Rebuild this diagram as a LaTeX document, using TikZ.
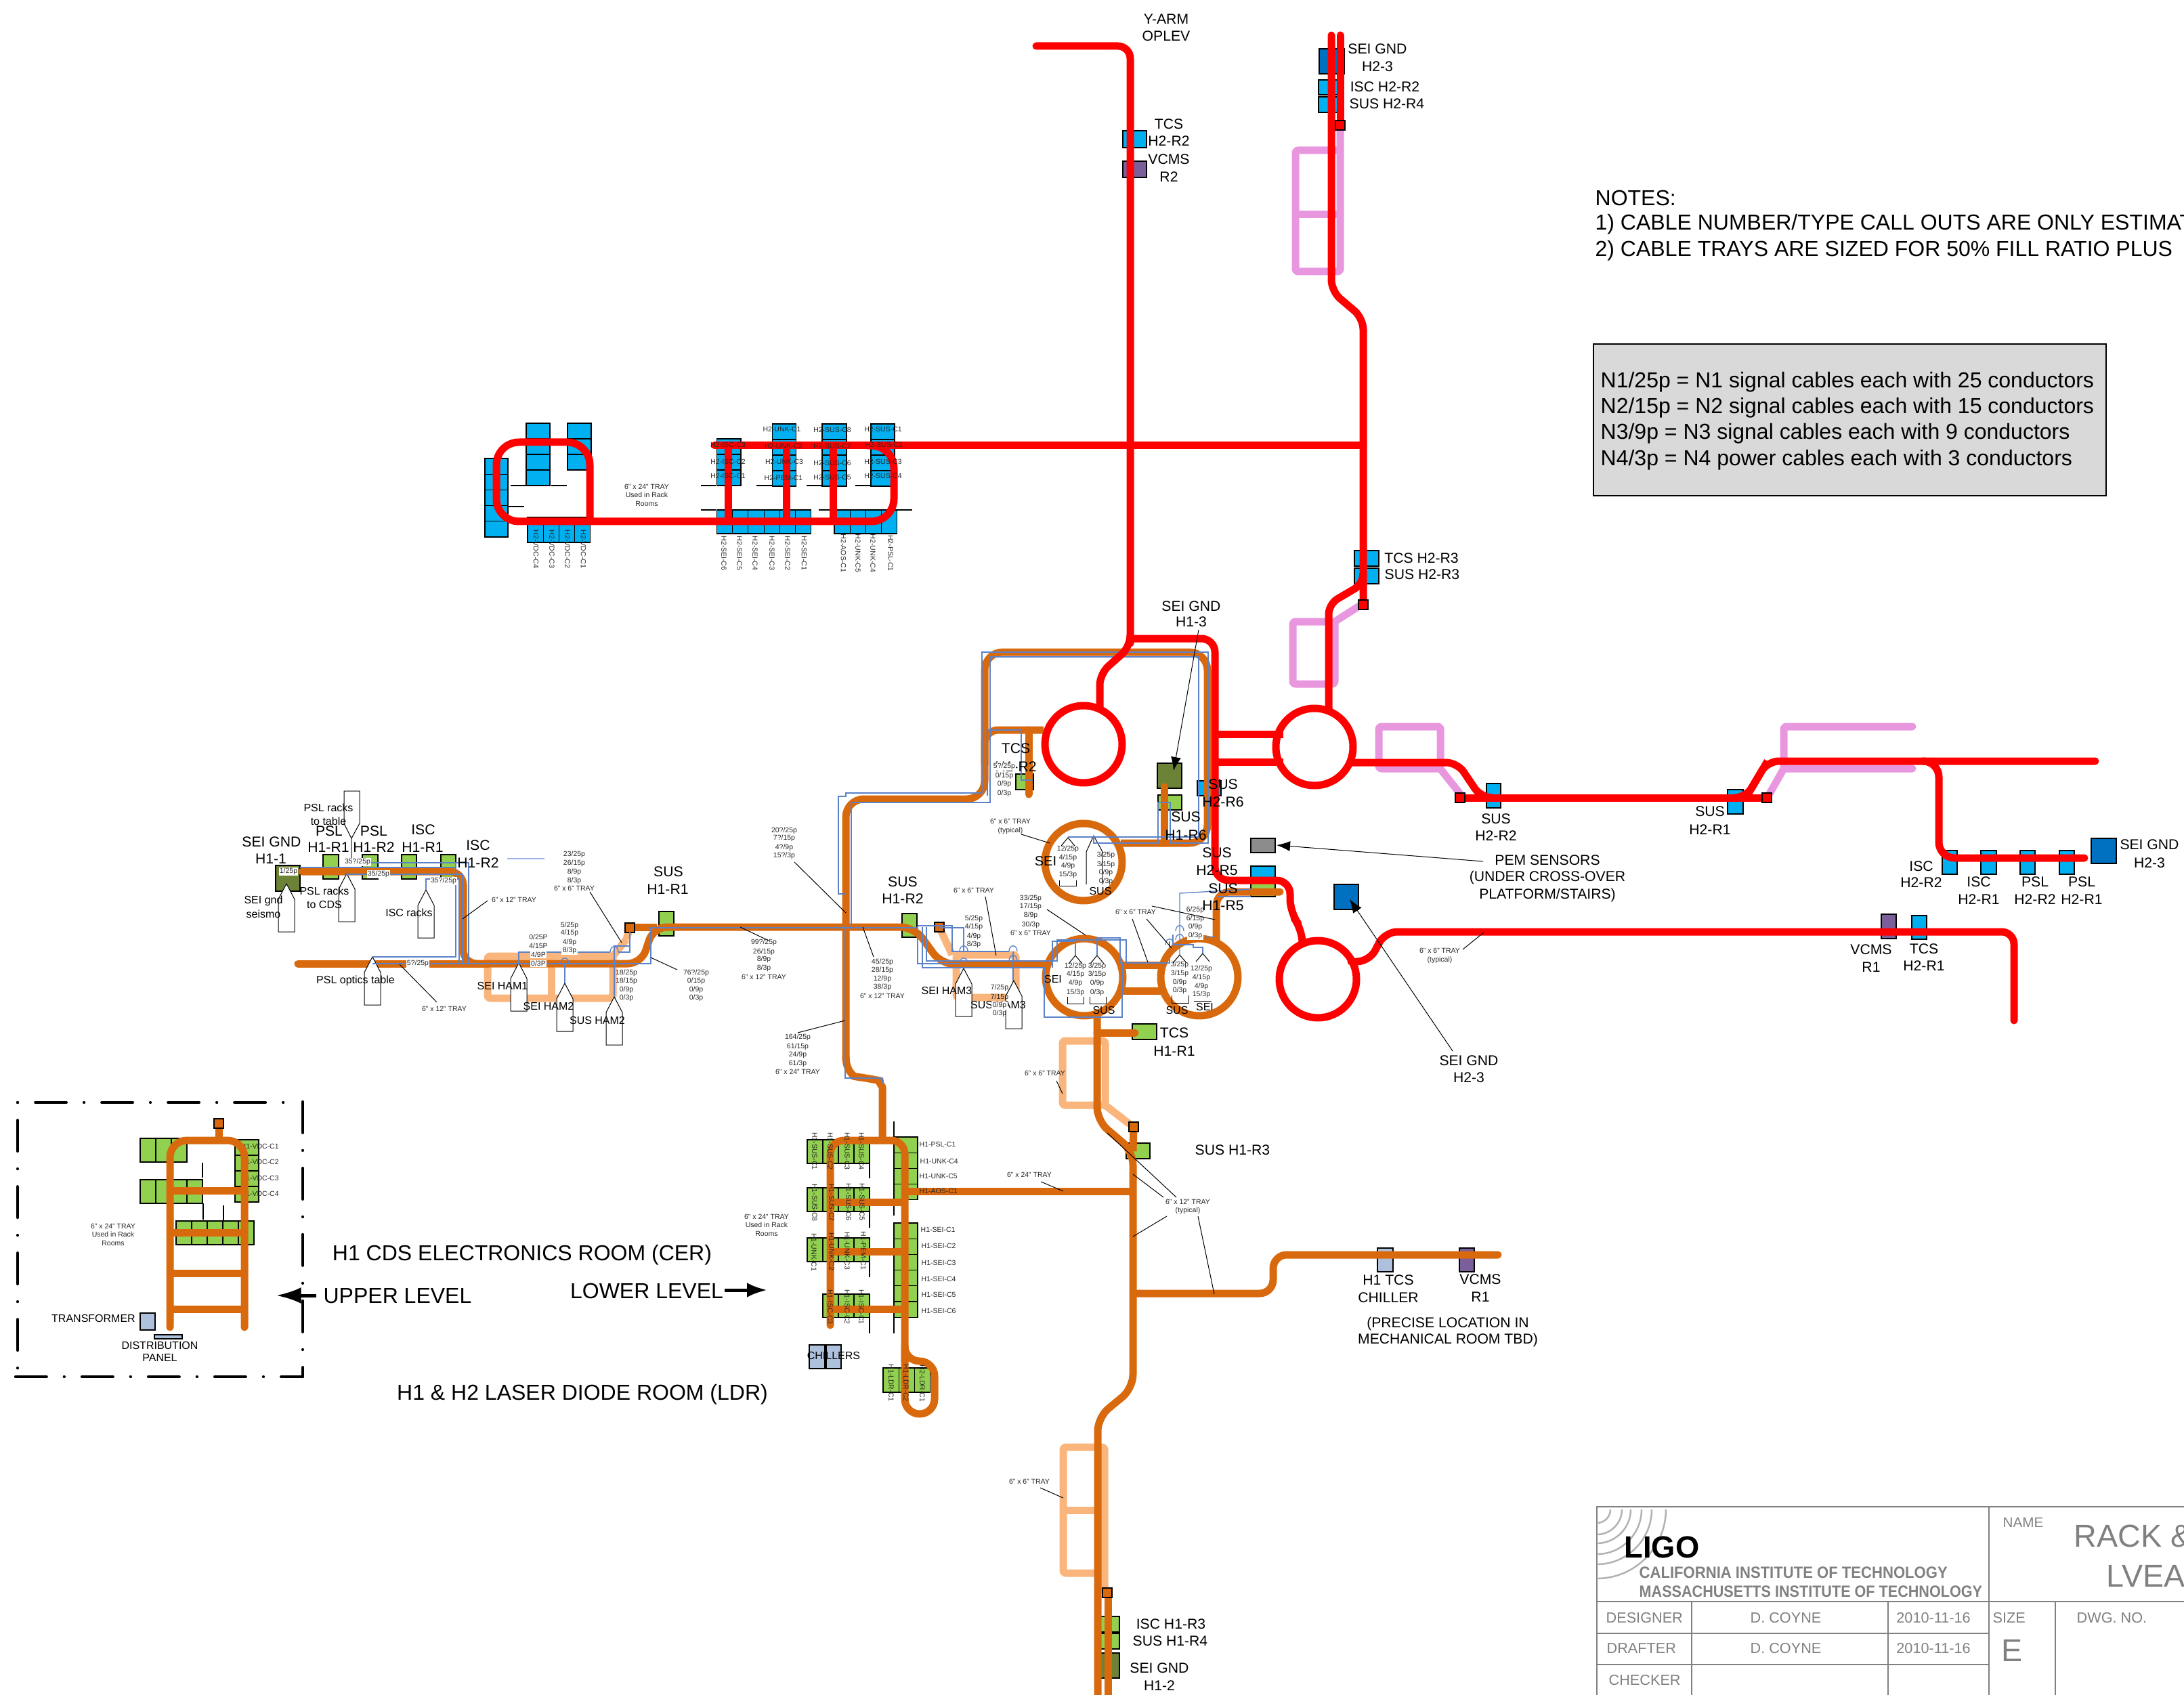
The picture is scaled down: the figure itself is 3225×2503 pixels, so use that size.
\documentclass[tikz,border=0pt]{standalone}
\usepackage{fontspec}
\setmainfont{Liberation Sans}
\usetikzlibrary{arrows.meta}
\definecolor{cred}{HTML}{FF0000}
\definecolor{corg}{HTML}{D9690D}
\definecolor{cpea}{HTML}{FAB57C}
\definecolor{cpnk}{HTML}{E897DE}
\definecolor{cgrn}{HTML}{92D050}
\definecolor{cblu}{HTML}{00B0F0}
\definecolor{cdbl}{HTML}{0070C0}
\definecolor{cdgr}{HTML}{6B8237}
\definecolor{cpur}{HTML}{7A5F9A}
\definecolor{cbgr}{HTML}{AEC1DC}
\definecolor{cwir}{HTML}{5B82C8}
\definecolor{ctxt}{HTML}{808080}
\tikzset{
 tray/.style={line width=3.3pt,line join=round},
 rtray/.style={tray,draw=cred,rounded corners=6pt},
 otray/.style={tray,draw=corg,rounded corners=6pt},
 ptray/.style={tray,draw=cpea,rounded corners=1pt},
 ktray/.style={tray,draw=cpnk,rounded corners=1pt},
 rack/.style={draw=black,line width=0.35pt},
 tick/.style={draw=black,line width=0.6pt},
 lead/.style={draw=black,line width=0.3pt},
 wire/.style={draw=cwir,line width=0.4pt},
 penta/.style={draw=black,fill=white,line width=0.3pt},
 arrowlead/.style={lead,-{Latex[length=6pt,width=4.5pt]}},
 tb/.style={draw=ctxt,line width=0.75pt},
 lab/.style={inner sep=0pt,align=center},
 sm/.style={lab,font=\fontsize{3.15}{3.8}\selectfont,text=black!85},
 md/.style={lab,font=\fontsize{4.8}{5.8}\selectfont},
 lg/.style={lab,font=\fontsize{6.35}{7.4}\selectfont},
 hg/.style={lab,font=\fontsize{9.6}{11.5}\selectfont},
 nt/.style={lab,anchor=west,font=\fontsize{9.6}{11}\selectfont},
 tbt/.style={lab,text=ctxt,font=\fontsize{6.5}{7.8}\selectfont},
 framed/.style={draw=black,line width=1.3pt,line cap=round,dash pattern=on 13.7pt off 7.85pt on 0.01pt off 7.85pt},
 framedot/.style={draw=black,line width=1.3pt,line cap=round,dash pattern=on 0.01pt off 7.85pt on 13.7pt off 7.85pt}
}
\newcounter{lbl}
\newcommand\Sm[4][]{\stepcounter{lbl}\node[sm,#1] (s\thelbl) at (#2,#3) {#4};}
\newcommand\Sw[4][]{\stepcounter{lbl}\node[sm,fill=white,inner sep=0.4pt,#1] (s\thelbl) at (#2,#3) {#4};}
\newcommand\Md[4][]{\stepcounter{lbl}\node[md,#1] (m\thelbl) at (#2,#3) {#4};}
\newcommand\Lg[4][]{\stepcounter{lbl}\node[lg,#1] (l\thelbl) at (#2,#3) {#4};}
\newcommand\Hg[4][]{\stepcounter{lbl}\node[hg,#1] (h\thelbl) at (#2,#3) {#4};}
\newcommand\Tb[4][]{\stepcounter{lbl}\node[tbt,#1] (b\thelbl) at (#2,#3) {#4};}
\newcommand\Rt[3]{\Sm[rotate=-90]{#1}{#2}{#3}}
\newcommand\Bx[5]{\draw[rack,fill=#1] (#2,#3) rectangle (#4,#5);}
\newcommand\RackH[6]{\foreach \ii in {1,...,#6}{\draw[rack,fill=#1] ({#2+(\ii-1)*#4},#3) rectangle ++(#4,#5);}}
\newcommand\RackV[6]{\foreach \ii in {1,...,#6}{\draw[rack,fill=#1] (#2,{#3+(\ii-1)*#5}) rectangle ++(#4,#5);}}
\newcommand\Sq[3]{\draw[draw=black,line width=0.55pt,fill=#1] ({#2-7},{#3-7}) rectangle ({#2+7},{#3+7});}
\newcommand\PUp[2]{\draw[penta] (#1,#2) -- ({#1+12},{#2+23}) -- ({#1+12},{#2+71}) -- ({#1-12},{#2+71}) -- ({#1-12},{#2+23}) -- cycle;}
\newcommand\Hop[2]{\draw[wire] ({#1-6},#2) .. controls ({#1-6},{#2-11}) and ({#1+6},{#2-11}) .. ({#1+6},#2);}
\newcommand\Arcq[1]{\draw[draw=black!30,line width=0.75pt] ({2358+#1},2229) .. controls ({2358+#1},{2229+0.55*#1}) and ({2358+0.55*#1},{2229+#1}) .. (2358,{2229+#1});}
\newcommand\Chev[2]{\draw[lead] ({#1-10},{#2+12}) -- (#1,#2) -- ({#1+10},{#2+12});}
\begin{document}
\begin{tikzpicture}[x=0.3pt,y=-0.3pt]
\useasboundingbox (0,0) rectangle (3225,2503);
% ---- frame of upper level
\draw[framedot] (26,1628) -- (426,1628);
\draw[framedot] (26,1628) -- (26,2030);
\draw[framed] (447,1627) -- (447,2033);
\draw[framed] (23,2033) -- (447,2033);
% ---- title block
\draw[tb] (3225,2225) -- (2358,2225) -- (2358,2503);
\draw[tb] (2937,2225) -- (2937,2503);
\draw[tb] (2358,2365) -- (3225,2365);
\draw[tb] (2358,2412) -- (2937,2412);
\draw[tb] (2358,2458) -- (2937,2458);
\draw[tb] (2498,2365) -- (2498,2503);
\draw[tb] (2788,2365) -- (2788,2503);
\draw[tb] (3035,2365) -- (3035,2503);
\Arcq{20}\Arcq{37}\Arcq{50}\Arcq{66}\Arcq{81}\Arcq{102}
\stepcounter{lbl}\node[lab,anchor=west,font=\bfseries\fontsize{13.6}{14}\selectfont] (ligo) at (2398,2285) {LIGO};
\stepcounter{lbl}\node[lab,anchor=west,text=ctxt,font=\bfseries\fontsize{7.2}{8}\selectfont] (calt) at (2420,2322) {\scalebox{0.92}[1]{CALIFORNIA INSTITUTE OF TECHNOLOGY}};
\stepcounter{lbl}\node[lab,anchor=west,text=ctxt,font=\bfseries\fontsize{7.2}{8}\selectfont] (mit) at (2420,2350) {\scalebox{0.9}[1]{MASSACHUSETTS INSTITUTE OF TECHNOLOGY}};
\Tb[anchor=west,font=\fontsize{6.2}{7}\selectfont]{2957}{2248}{NAME}
\Tb[anchor=west,font=\fontsize{14}{16}\selectfont]{3062}{2268}{RACK \&}
\Tb[anchor=west,font=\fontsize{14}{16}\selectfont]{3110}{2327}{LVEA}
\Tb[anchor=west]{2371}{2389}{DESIGNER}
\Tb[anchor=west]{2372}{2434}{DRAFTER}
\Tb[anchor=west]{2375}{2481}{CHECKER}
\Tb{2637}{2389}{D. COYNE}
\Tb{2637}{2434}{D. COYNE}
\Tb{2855}{2389}{2010-11-16}
\Tb{2855}{2434}{2010-11-16}
\Tb[anchor=west]{2942}{2389}{SIZE}
\Tb[font=\fontsize{14}{16}\selectfont]{2971}{2437}{E}
\Tb[anchor=west]{3066}{2389}{DWG. NO.}
% ---- notes
\stepcounter{lbl}\node[nt] (n1) at (2355,292) {NOTES:};
\stepcounter{lbl}\node[nt] (n2) at (2355,331) {1) CABLE NUMBER/TYPE CALL OUTS ARE ONLY ESTIMAT};
\stepcounter{lbl}\node[nt] (n3) at (2355,370) {2) CABLE TRAYS ARE SIZED FOR 50\% FILL RATIO PLUS};
\draw[draw=black,line width=0.6pt,fill=black!15] (2353,508) rectangle (3110,732);
\node[nt] (k1) at (2363,564) {N1/25p = N1 signal cables each with 25 conductors};
\node[nt] (k2) at (2363,602) {N2/15p = N2 signal cables each with 15 conductors};
\node[nt] (k3) at (2363,640) {N3/9p = N3 signal cables each with 9 conductors};
\node[nt] (k4) at (2363,679) {N4/3p = N4 power cables each with 3 conductors};
% ---- light trays
\draw[ktray] (1979,185) -- (1979,401) -- (1913,401) -- (1913,222) -- (1979,222);
\draw[ktray] (1913,317) -- (1979,317);
\draw[ktray] (2010,893) -- (1971,918) -- (1971,1010) -- (1909,1010) -- (1909,918) -- (1971,918);
\draw[ktray] (2036,1073) -- (2127,1073) -- (2127,1135) -- (2036,1135) -- cycle;
\draw[ktray] (2125,1133) -- (2156,1172);
\draw[ktray,line cap=round] (2824,1073) -- (2634,1073) -- (2634,1135) -- (2824,1135);
\draw[ktray] (2634,1135) -- (2613,1172);
\draw[ptray] (925,1387) -- (905,1412) -- (720,1412) -- (720,1474) -- (905,1474) -- (905,1412);
\draw[ptray] (814,1412) -- (814,1474);
\draw[ptray] (930,1370) -- (925,1387);
\draw[ptray] (1387,1369) -- (1406,1410);
\draw[ptray] (1412,1473) -- (1412,1410) -- (1500,1410) -- (1500,1473) -- cycle;
\draw[ptray] (1632,1635) -- (1632,1537) -- (1569,1537) -- (1569,1632) -- (1632,1632) -- (1668,1660);
\draw[ptray] (1631,2352) -- (1631,2137) -- (1570,2137) -- (1570,2323) -- (1631,2323);
\draw[ptray] (1570,2230) -- (1631,2230);
% ---- H2 racks
\RackV{cblu}{716}{677}{34}{23.2}{5}
\RackV{cblu}{777}{625}{35}{23}{4}
\RackV{cblu}{838}{625}{35}{23}{3}
\RackH{cblu}{779}{764}{23.2}{37}{4}
\RackV{cblu}{1058.5}{648}{35.5}{23}{3}
\RackV{cblu}{1140.5}{626}{35}{23}{4}
\RackV{cblu}{1214}{626}{36}{23}{4}
\RackV{cblu}{1286}{626}{35}{23}{4}
\RackH{cblu}{1058.5}{753}{23.2}{35}{6}
\RackH{cblu}{1232}{753}{23.2}{35}{4}
\foreach \ax/\bx/\ay in {754/776/717,814/837/717,751/774/748,1035/1057/717,1117/1140/717,1191/1213/717,1263/1286/717,1035/1057/753,1209/1231/753,1325/1347/753}{\draw[tick] (\ax,\ay) -- (\bx,\ay);}
% ---- H1 racks
\RackH{cgrn}{1192}{1683}{23}{35}{4}
\RackH{cgrn}{1192}{1754}{23}{35}{4}
\RackH{cgrn}{1192}{1828}{23}{35}{4}
\RackH{cgrn}{1215}{1911}{23}{34.5}{3}
\RackV{cgrn}{1320}{1679}{35}{23.2}{4}
\RackV{cgrn}{1320}{1806}{35}{23.2}{6}
\RackH{cgrn}{1304}{2020}{23.3}{36}{3}
\Bx{cbgr}{1195}{1986}{1218}{2021}
\Bx{cbgr}{1220}{1986}{1242}{2021}
\foreach \ax/\ay/\by in {1284/1718/1740,1284/1789/1813,1284/1863/1886,1284/1946/1969,1320/1656/1679,1320/1772/1795,1320/1946/1969}{\draw[tick] (\ax,\ay) -- (\ax,\by);}
% ---- upper level racks
\RackH{cgrn}{207}{1681}{23}{35}{3}
\RackH{cgrn}{207}{1742}{23}{35}{4}
\RackV{cgrn}{347}{1683}{35}{23}{4}
\RackH{cgrn}{260}{1803}{23}{35}{5}
\draw[tick] (299,1717) -- (299,1739);
\draw[tick] (299.5,1777) -- (299.5,1801);
\draw[tick] (330,1780) -- (330,1803);
\Bx{cbgr}{207}{1939}{229}{1964}
\Bx{cbgr}{228}{1971}{269}{1977}
\Sm[anchor=west]{355}{1693}{H1-VDC-C1}
\Sm[anchor=west]{355}{1716}{H1-VDC-C2}
\Sm[anchor=west]{355}{1740}{H1-VDC-C3}
\Sm[anchor=west]{355}{1763}{H1-VDC-C4}
% ---- cabinet boxes elsewhere
\Bx{cblu}{1658}{193}{1693}{218}
\Bx{cpur}{1658}{238}{1693}{262}
\Bx{cdbl}{1948}{72}{1985}{109}
\Bx{cblu}{1947}{118}{1984}{140}
\Bx{cblu}{1947}{143}{1984}{166}
\Bx{cblu}{2000}{813}{2036}{836}
\Bx{cblu}{2000}{839}{2036}{862}
\Bx{cblu}{2195}{1157}{2216}{1193}
\Bx{cblu}{2551}{1166}{2574}{1202}
\Bx{cblu}{2868}{1256}{2890}{1291}
\Bx{cblu}{2925}{1256}{2948}{1291}
\Bx{cblu}{2983}{1256}{3005}{1291}
\Bx{cblu}{3041}{1256}{3063}{1291}
\Bx{cdbl}{3088}{1238}{3125}{1275}
\Bx{cpur}{2778}{1350}{2800}{1386}
\Bx{cblu}{2823}{1352}{2845}{1387}
\Bx{black!45}{1847}{1238}{1883}{1259}
\Bx{cdbl}{1970}{1306}{2006}{1343}
\Bx{cblu}{1847}{1279}{1883}{1305}
\Bx{cgrn}{1847}{1300}{1883}{1324}
\Bx{cdgr}{1709}{1127}{1745}{1164}
\Bx{cgrn}{1710}{1174}{1745}{1196}
\Bx{cblu}{1768}{1153}{1803}{1175}
\Bx{cgrn}{1500}{1143}{1526}{1166}
\Bx{cdgr}{407}{1278}{443}{1316}
\Bx{cgrn}{477}{1262}{500}{1298}
\Bx{cgrn}{535}{1262}{558}{1298}
\Bx{cgrn}{593}{1262}{615}{1298}
\Bx{cgrn}{651}{1262}{673}{1298}
\Bx{cgrn}{973}{1346}{995}{1382}
\Bx{cgrn}{1332}{1349}{1354}{1384}
\Bx{cgrn}{1672}{1512}{1708}{1535}
\Bx{cgrn}{1663}{1688}{1698}{1711}
\Bx{cbgr}{2034}{1843}{2057}{1878}
\Bx{cpur}{2155}{1843}{2177}{1878}
\Bx{cgrn}{1617}{2387}{1653}{2410}
\Bx{cgrn}{1617}{2412}{1653}{2435}
\Bx{cdgr}{1617}{2441}{1653}{2478}
% ---- orange trays
\draw[otray,line cap=round] (446,1287) -- (684,1287) -- (684,1423) -- (947,1423) -- (965,1369) -- (1350,1369) -- (1390,1424) -- (1540,1424);
\draw[otray,line cap=round] (440,1423) -- (720,1423);
\draw[otray] (925,1369) -- (970,1369);
\draw[otray,rounded corners=8pt] (1783,1100) -- (1783,1245) -- (1655,1245);
\draw[otray,rounded corners=8pt] (1249,1565) -- (1249,1180) -- (1454,1180) -- (1454,963) -- (1783,963) -- (1783,1100);
\draw[otray] (1249,1560) .. controls (1249,1585) and (1265,1590) .. (1280,1592) .. controls (1295,1595) and (1303,1605) .. (1303,1625) -- (1303,1684);
\draw[otray] (1454,1130) -- (1454,1078) -- (1541,1078);
\draw[otray,line cap=round] (1519,1078) -- (1519,1173);
\draw[otray,line cap=round] (1719,1245) -- (1719,1162);
\draw[otray,line cap=round] (1890,1317) -- (1796,1317) -- (1796,1390);
\draw[otray] (1600,1273) circle[radius=17.1pt];
\draw[otray] (1601,1443) circle[radius=17.1pt];
\draw[otray] (1771,1443) circle[radius=17.1pt];
\draw[otray] (1658,1425) -- (1715,1425);
\draw[otray] (1658,1463) -- (1715,1463);
\draw[otray] (1620,1495) -- (1620,1655) -- (1673,1700) -- (1673,2050) -- (1621,2093) -- (1621,2510);
\draw[otray] (1674,1664) -- (1673,1700);
\draw[otray] (1636,2352) -- (1636,2510);
\draw[otray,line cap=round] (1620,1525) -- (1676,1525);
\draw[otray] (1336,1759) -- (1673,1759);
\draw[otray,line cap=round] (1673,1910) -- (1880,1910) -- (1880,1853) -- (2212,1853);
\draw[otray,line cap=round] (1226,1957) -- (1226,1684) -- (1336,1684) -- (1336,2010);
\draw[otray,rounded corners=6.6pt] (1336,2000) -- (1336,2010) -- (1380,2010) -- (1380,2088) -- (1336,2088) -- (1336,2000);
\draw[otray] (1226,1775) -- (1336,1775);
\draw[otray] (1226,1848) -- (1336,1848);
\draw[otray] (1226,1933) -- (1336,1933);
\draw[otray,line cap=round,rounded corners=7.5pt] (251,1960) -- (251,1684) -- (361,1684) -- (361,1960);
\draw[otray] (251,1758) -- (361,1758);
\draw[otray] (251,1820) -- (361,1820);
\draw[otray] (251,1880) -- (361,1880);
\draw[otray] (251,1933) -- (361,1933);
\draw[otray] (323,1684) -- (323,1660);
\Sq{corg}{323}{1659}
\Sq{corg}{930}{1370}
\Sq{corg}{1387}{1369}
\Sq{corg}{1674}{1664}
\Sq{corg}{1635}{2352}
% ---- pentagon connectors
\draw[penta] (519,1238) -- (531,1216) -- (531,1168) -- (508,1168) -- (508,1216) -- cycle;
\PUp{512}{1290}\PUp{423}{1305}\PUp{629}{1314}\PUp{550}{1413}
\PUp{766}{1422}\PUp{834}{1452}\PUp{907}{1472}\PUp{1423}{1430}\PUp{1497}{1448}
\draw[penta] (1604,1306) -- (1604,1258) -- (1615,1234) -- (1628,1258) -- (1628,1306);
\Chev{1577}{1237}\Chev{1588}{1411}\Chev{1620}{1411}\Chev{1742}{1410}\Chev{1776}{1408}
\draw[lead] (1564,1300) -- (1564,1308) -- (1589,1308) -- (1589,1300);
\draw[lead] (1576,1472) -- (1576,1482) -- (1600,1482) -- (1600,1472);
\draw[lead] (1609,1472) -- (1609,1482) -- (1633,1482) -- (1633,1472);
\draw[lead] (1730,1470) -- (1730,1481) -- (1755,1481) -- (1755,1470);
\draw[lead] (1763,1478) -- (1789,1478);
% ---- wires
\draw[wire] (443,1281) -- (673,1281);
\draw[wire] (519,1238) -- (519,1274) -- (692,1274) -- (692,1424);
\draw[wire] (512,1290) -- (512,1291) -- (683,1291) -- (683,1423);
\draw[wire] (629,1314) -- (629,1298) -- (678,1298) -- (678,1423);
\draw[wire] (550,1413) -- (673,1413) -- (673,1274);
\draw[wire,line width=0.6pt] (550,1423) -- (961,1423) -- (961,1370) -- (1355,1370);
\draw[wire] (766,1422) -- (766,1406) -- (901,1406);\Hop{907}{1406}\draw[wire] (913,1406) -- (930,1406) -- (930,1376);
\draw[wire] (907,1472) -- (907,1397) -- (930,1397);
\draw[wire] (834,1452) -- (834,1423);\Hop{834}{1423}
\draw[wire] (1248,1320) -- (1238,1320) -- (1238,1176) -- (1249,1176) -- (1249,1171) -- (1450,1171) -- (1450,963) -- (1784,963) -- (1784,1245) -- (1728,1245) -- (1728,1185) -- (1710,1185) -- (1710,1245) -- (1615,1245) -- (1615,1234);
\draw[wire] (1257,1368) -- (1257,1185) -- (1462,1185) -- (1462,970) -- (1770,970) -- (1770,1236) -- (1577,1236);
\draw[wire] (1458,1175) -- (1458,1078) -- (1508,1078) -- (1508,1152) -- (1525,1152);
\draw[wire] (1248,1367) -- (1248,1592) -- (1303,1592) -- (1303,1600);
\draw[wire] (1355,1367) -- (1406,1367) -- (1406,1405) -- (1490,1405);\Hop{1496}{1405}\draw[wire] (1496,1405) -- (1496,1448);
\draw[wire] (1355,1367) -- (1355,1423) -- (1417,1423);\Hop{1423}{1423}
\draw[wire] (1423,1423) -- (1423,1430);
\draw[wire] (1362,1369) -- (1362,1429) -- (1542,1429) -- (1542,1502) -- (1657,1502) -- (1657,1422) -- (1654,1422) -- (1654,1385) -- (1620,1385) -- (1620,1411);
\draw[wire] (1368,1369) -- (1368,1419) -- (1561,1419) -- (1561,1388) -- (1663,1388) -- (1663,1422) -- (1727,1422) -- (1727,1390);
\Hop{1496}{1419}\Hop{1423}{1405}
\draw[wire] (1388,1370) -- (1423,1370) -- (1423,1405);
\draw[wire] (1554,1429) -- (1554,1390) -- (1588,1390) -- (1588,1411);
\draw[wire] (1742,1410) -- (1742,1319) -- (1847,1313);
\draw[wire] (1776,1408) -- (1776,1399) -- (1762,1399) -- (1762,1395) -- (1732,1395) -- (1732,1380);
\draw[wire] (1798,1324) -- (1847,1324);
\draw[wire] (1796,1383) -- (1780,1384);
\Hop{1742}{1375}\Hop{1742}{1388}\Hop{1727}{1395}
\draw[wire,draw=cwir!60] (749,1268) -- (804,1268);
% ---- red trays
\draw[rtray,line cap=round,rounded corners=5.5pt] (1530,68) -- (1669,68) -- (1669,950);
\draw[rtray] (1669,943) -- (1794,943) -- (1794,1300) -- (1905,1300) -- (1905,1348) -- (1923,1372) -- (1923,1392);
\draw[rtray,rounded corners=5pt] (1669,945) -- (1669,955) -- (1624,995) -- (1624,1045);
\draw[rtray] (1794,1084) -- (1895,1084);
\draw[rtray] (1794,1125) -- (1895,1125);
\draw[rtray] (1600,1099) circle[radius=17.1pt];
\draw[rtray] (1941,1103) circle[radius=17.1pt];
\draw[rtray] (1946,1446) circle[radius=17.1pt];
\draw[rtray,line cap=round,rounded corners=5pt] (1966,52) -- (1966,430) -- (2013,470) -- (2013,893);
\draw[rtray,line cap=round] (1979,52) -- (1979,185);
\draw[rtray,rounded corners=4.5pt] (2013,846) -- (2013,862) -- (1962,892) -- (1962,1050);
\draw[rtray,line cap=round] (1055,658) -- (2013,658);
\draw[rtray,rounded corners=10pt] (871,770) -- (871,653) -- (733,653) -- (733,770) -- (1320,770) -- (1320,658) -- (1280,658);
\draw[rtray] (1075,658) -- (1075,770);
\draw[rtray] (1161,658) -- (1161,770);
\draw[rtray] (1230,658) -- (1230,770);
\draw[rtray,rounded corners=5pt] (1995,1126) -- (2152,1126) -- (2187,1178) -- (2200,1178);
\draw[rtray] (2156,1178) -- (2609,1178);
\draw[rtray,rounded corners=5pt] (2560,1178) -- (2578,1178) -- (2610,1124);
\draw[rtray,rounded corners=5pt,line cap=round] (2578,1178) -- (2610,1124) -- (3094,1124);
\draw[rtray,rounded corners=7pt,line cap=round] (2840,1124) -- (2863,1124) -- (2863,1267) -- (3078,1267);
\draw[rtray,rounded corners=5.5pt,line cap=round] (1995,1420) -- (2022,1420) -- (2045,1376) -- (2974,1376) -- (2974,1507);
\Sq{cred}{1979}{185}
\Sq{cred}{2013}{893}
\Sq{cred}{2156}{1178}
\Sq{cred}{2609}{1178}
% ---- leaders
\draw[lead] (871,1317) -- (918,1392);
\draw[lead] (720,1330) -- (683,1357);
\draw[lead] (645,1480) -- (590,1424);
\draw[lead] (1000,1432) -- (961,1414);
\draw[lead] (1093,1369) -- (1135,1389);
\draw[lead] (1173,1273) -- (1249,1348);
\draw[lead] (1455,1324) -- (1471,1411);
\draw[lead] (1546,1343) -- (1603,1381);
\draw[lead] (1290,1413) -- (1274,1369);
\draw[lead] (1178,1525) -- (1248,1507);
\draw[lead] (1508,1232) -- (1550,1245);
\draw[lead] (1672,1357) -- (1695,1421);
\draw[lead] (1693,1357) -- (1730,1400);
\draw[lead] (1701,1338) -- (1794,1358);
\draw[lead] (1635,1673) -- (1737,1768);
\draw[lead] (1673,1734) -- (1718,1768);
\draw[lead] (1723,1796) -- (1673,1826);
\draw[lead] (1769,1796) -- (1793,1911);
\draw[lead] (1560,1596) -- (1569,1615);
\draw[lead] (1537,1745) -- (1570,1759);
\draw[lead] (1536,2197) -- (1570,2212);
\draw[lead] (2160,1402) -- (2191,1377);
\draw[arrowlead] (1770,930) -- (1733,1138);
\draw[arrowlead] (2190,1272) -- (1885,1248);
\draw[arrowlead] (2145,1552) -- (1993,1328);
\draw[draw=black,line width=1.5pt,-{Latex[length=11pt,width=7.2pt]}] (467,1913) -- (408,1913);
\draw[draw=black,line width=1.5pt,-{Latex[length=9pt,width=6.5pt]}] (1070,1905) -- (1133,1905);
% ---- H2 rack labels
\Rt{791.5}{811}{H2-VDC-C4}\Rt{815}{811}{H2-VDC-C3}\Rt{838}{811}{H2-VDC-C2}\Rt{861.6}{811}{H2-VDC-C1}
\Rt{1069}{817}{H2-SEI-C6}\Rt{1092}{817}{H2-SEI-C5}\Rt{1115}{817}{H2-SEI-C4}\Rt{1140}{817}{H2-SEI-C3}\Rt{1163}{817}{H2-SEI-C2}\Rt{1187.5}{817}{H2-SEI-C1}
\Rt{1245.5}{817}{H2-AOS-C1}\Rt{1267}{817}{H2-UNK-C5}\Rt{1289}{817}{H2-UNK-C4}\Rt{1315}{817}{H2-PSL-C1}
\Sm{1075}{657}{H2-ISC-C3}\Sm{1075}{682}{H2-ISC-C2}\Sm{1075}{703}{H2-ISC-C1}
\Sm{1154.5}{634}{H2-UNK-C1}\Sm{1157}{659}{H2-UNK-C2}\Sm{1158}{682}{H2-UNK-C3}\Sm{1157}{706}{H2-PEM-C1}
\Sm{1229}{635}{H2-SUS-C8}\Sm{1229}{659}{H2-SUS-C7}\Sm{1229}{684}{H2-SUS-C6}\Sm{1229}{705}{H2-SUS-C5}
\Sm{1304}{634}{H2-SUS-C1}\Sm{1305}{657}{H2-SUS-C2}\Sm{1304}{682}{H2-SUS-C3}\Sm{1304}{703}{H2-SUS-C4}
\Sm{955}{719}{6" x 24" TRAY}\Sm{955}{731}{Used in Rack}\Sm{955}{744}{Rooms}
% ---- H1 rack labels
\Rt{1203}{1700}{H1-SUS-C1}\Rt{1226}{1700}{H1-SUS-C2}\Rt{1251}{1700}{H1-SUS-C3}\Rt{1272}{1700}{H1-SUS-C4}
\Rt{1203}{1776}{H1-SUS-C8}\Rt{1228}{1776}{H1-SUS-C7}\Rt{1253}{1775}{H1-SUS-C6}\Rt{1273}{1775}{H1-SUS-C5}
\Rt{1202}{1849}{H1-UNK-C1}\Rt{1228}{1848}{H1-UNK-C2}\Rt{1251}{1847}{H1-UNK-C3}\Rt{1275}{1847}{H1-PEM-C1}
\Rt{1226}{1930}{H1-ISC-C3}\Rt{1251}{1930}{H1-ISC-C2}\Rt{1272}{1930}{H1-ISC-C1}
\Rt{1316}{2042}{H1-LDR-C1}\Rt{1338}{2042}{H1-LDR-C2}\Rt{1362}{2043}{H2-LDR-C1}
\Sm[anchor=west]{1357}{1690}{H1-PSL-C1}\Sm[anchor=west]{1358}{1715}{H1-UNK-C4}\Sm[anchor=west]{1357}{1737}{H1-UNK-C5}\Sm[anchor=west]{1357}{1759}{H1-AOS-C1}
\Sm[anchor=west]{1359}{1816}{H1-SEI-C1}\Sm[anchor=west]{1360}{1840}{H1-SEI-C2}\Sm[anchor=west]{1360}{1865}{H1-SEI-C3}\Sm[anchor=west]{1360}{1889}{H1-SEI-C4}\Sm[anchor=west]{1360}{1912}{H1-SEI-C5}\Sm[anchor=west]{1360}{1936}{H1-SEI-C6}
\Sm{1132}{1797}{6" x 24" TRAY}\Sm{1132}{1809}{Used in Rack}\Sm{1132}{1822}{Rooms}
\Md{1231}{2002}{CHILLERS}
% ---- upper level labels
\Sm{167}{1811}{6" x 24" TRAY}\Sm{167}{1823}{Used in Rack}\Sm{167}{1836}{Rooms}
\Md{138}{1947}{TRANSFORMER}\Md{236}{1987}{DISTRIBUTION}\Md{236}{2005}{PANEL}
\Hg{587}{1914}{UPPER LEVEL}\Hg{771}{1853}{H1 CDS ELECTRONICS ROOM (CER)}\Hg{955}{1906}{LOWER LEVEL}\Hg{860}{2059}{H1 \& H2 LASER DIODE ROOM (LDR)}
% ---- left labels
\Lg{401}{1243}{SEI GND}\Lg{400}{1268}{H1-1}
\Lg{486}{1227}{PSL}\Lg{485}{1251}{H1-R1}\Lg{552}{1227}{PSL}\Lg{552}{1251}{H1-R2}
\Lg{625}{1225}{ISC}\Lg{624}{1251}{H1-R1}\Lg{706}{1248}{ISC}\Lg{706}{1274}{H1-R2}
\Md{485}{1193}{PSL racks}\Md{485}{1213}{to table}\Md{479}{1316}{PSL racks}\Md{479}{1336}{to CDS}
\Md{389}{1330}{SEI gnd}\Md{389}{1350}{seismo}\Md{604}{1348}{ISC racks}\Md{525}{1448}{PSL optics table}
\Md{742}{1456}{SEI HAM1}\Md{810}{1486}{SEI HAM2}\Md{882}{1507}{SUS HAM2}\Md{1398}{1463}{SEI HAM3}
\Sw{426}{1287}{1/25p}\Sw{528}{1273}{35?/25p}\Sw{559}{1291}{35/25p}\Sw{655}{1301}{35?/25p}\Sw{617}{1423}{5?/25p}
\Sm{848}{1262}{23/25p}\Sm{848}{1275}{26/15p}\Sm{848}{1288}{8/9p}\Sm{848}{1301}{8/3p}\Sm{848}{1312}{6" x 6" TRAY}
\Sm{759}{1329}{6" x 12" TRAY}\Sm{656}{1490}{6" x 12" TRAY}
\Sw{795}{1384}{0/25P}\Sw{795}{1397}{4/15P}\Sw{795}{1410}{4/9P}\Sw{795}{1423}{0/3P}
\Sm{841}{1367}{5/25p}\Sm{841}{1378}{4/15p}\Sm{841}{1392}{4/9p}\Sw{841}{1404}{8/3p}
\Sm{925}{1437}{18/25p}\Sm{925}{1449}{18/15p}\Sm{925}{1462}{0/9p}\Sm{925}{1474}{0/3p}
\Sm{1028}{1437}{76?/25p}\Sm{1028}{1449}{0/15p}\Sm{1028}{1462}{0/9p}\Sm{1028}{1474}{0/3p}
\Sm{1128}{1392}{99?/25p}\Sm{1128}{1406}{26/15p}\Sm{1128}{1417}{8/9p}\Sm{1128}{1430}{8/3p}\Sm{1128}{1443}{6" x 12" TRAY}
\Sm{1158}{1227}{20?/25p}\Sm{1158}{1238}{7?/15p}\Sm{1158}{1252}{4?/9p}\Sm{1158}{1264}{15?/3p}
\Lg{987}{1287}{SUS}\Lg{986}{1313}{H1-R1}\Lg{1333}{1302}{SUS}\Lg{1333}{1327}{H1-R2}
% ---- centre labels
\Sm{1438}{1357}{5/25p}\Sm{1438}{1369}{4/15p}\Sm{1438}{1383}{4/9p}\Sm{1438}{1395}{8/3p}\Sm{1438}{1315}{6" x 6" TRAY}
\Sm{1522}{1327}{33/25p}\Sm{1522}{1339}{17/15p}\Sm{1522}{1352}{8/9p}\Sm{1522}{1366}{30/3p}\Sm{1522}{1378}{6" x 6" TRAY}
\Sm{1303}{1421}{45/25p}\Sm{1303}{1433}{28/15p}\Sm{1303}{1446}{12/9p}\Sm{1303}{1458}{38/3p}\Sm{1303}{1471}{6" x 12" TRAY}
\Sm{1178}{1532}{164/25p}\Sm{1178}{1546}{61/15p}\Sm{1178}{1558}{24/9p}\Sm{1178}{1571}{61/3p}\Sm{1178}{1583}{6" x 24" TRAY}
\Sm{1492}{1213}{6" x 6" TRAY}\Sm{1492}{1227}{(typical)}
\Md[font=\fontsize{6}{7}\selectfont]{1544}{1272}{SEI}
\Sm{1577}{1254}{12/25p}\Sm{1577}{1267}{4/15p}\Sm{1577}{1279}{4/9p}\Sm{1577}{1292}{15/3p}
\Sm{1633}{1263}{3/25p}\Sm{1633}{1277}{3/15p}\Sm{1633}{1289}{0/9p}\Sm{1633}{1302}{0/3p}
\Md{1625}{1316}{SUS}
\Md{1555}{1446}{SEI}\Md{1630}{1492}{SUS}
\Sm{1588}{1427}{12/25p}\Sm{1588}{1439}{4/15p}\Sm{1588}{1452}{4/9p}\Sm{1588}{1466}{15/3p}
\Sm{1620}{1427}{3/25p}\Sm{1620}{1439}{3/15p}\Sm{1620}{1452}{0/9p}\Sm{1620}{1466}{0/3p}
\Sm{1742}{1425}{3/25p}\Sm{1742}{1438}{3/15p}\Sm{1742}{1451}{0/9p}\Sm{1742}{1463}{0/3p}
\Sm{1774}{1431}{12/25p}\Sm{1774}{1444}{4/15p}\Sm{1774}{1457}{4/9p}\Sm{1774}{1469}{15/3p}
\Md{1738}{1492}{SUS}\Md{1779}{1487}{SEI}
\Sm{1765}{1344}{6/25p}\Sm{1765}{1357}{6/15p}\Sm{1765}{1369}{0/9p}\Sw{1765}{1382}{0/3p}
\Sm{1677}{1347}{6" x 6" TRAY}
\Md{1474}{1484}{SUS HAM3}
\Sm{1476}{1459}{7/25p}\Sm{1476}{1473}{7/15p}\Sw{1476}{1485}{0/9p}\Sm{1476}{1497}{0/3p}
\Lg{1500}{1105}{TCS}\Lg{1500}{1132}{H1-R2}
\Sw{1483}{1132}{5?/25p}\Sm{1483}{1146}{0/15p}\Sm{1483}{1158}{0/9p}\Sm{1483}{1172}{0/3p}
\Lg{1759}{895}{SEI GND}\Lg{1759}{918}{H1-3}
\Lg{1806}{1158}{SUS}\Lg{1806}{1184}{H2-R6}\Lg{1751}{1206}{SUS}\Lg{1751}{1233}{H1-R6}
\Lg{1797}{1259}{SUS}\Lg{1797}{1285}{H2-R5}\Lg{1806}{1312}{SUS}\Lg{1806}{1337}{H1-R5}
\Lg{1734}{1525}{TCS}\Lg{1734}{1552}{H1-R1}
\Lg{1820}{1698}{SUS H1-R3}
\Sm{1754}{1775}{6" x 12" TRAY}\Sm{1754}{1788}{(typical)}
\Sm{1543}{1585}{6" x 6" TRAY}\Sm{1520}{1735}{6" x 24" TRAY}\Sm{1520}{2188}{6" x 6" TRAY}
% ---- right and lower labels
\Lg{2050}{1890}{H1 TCS}\Lg{2050}{1916}{CHILLER}\Lg{2186}{1889}{VCMS}\Lg{2186}{1915}{R1}
\Lg{2138}{1955}{(PRECISE LOCATION IN}\Lg{2138}{1979}{MECHANICAL ROOM TBD)}
\Lg{2169}{1566}{SEI GND}\Lg{2169}{1591}{H2-3}
\Lg{1729}{2398}{ISC H1-R3}\Lg{1728}{2423}{SUS H1-R4}\Lg{1712}{2463}{SEI GND}\Lg{1712}{2489}{H1-2}
\Lg{1722}{28}{Y-ARM}\Lg{1722}{53}{OPLEV}
\Lg{1726}{183}{TCS}\Lg{1726}{208}{H2-R2}\Lg{1726}{235}{VCMS}\Lg{1726}{261}{R2}
\Lg{2034}{72}{SEI GND}\Lg{2034}{98}{H2-3}\Lg{2045}{128}{ISC H2-R2}\Lg{2048}{153}{SUS H2-R4}
\Lg{2099}{824}{TCS H2-R3}\Lg{2100}{848}{SUS H2-R3}
\Lg{2209}{1209}{SUS}\Lg{2209}{1234}{H2-R2}\Lg{2525}{1198}{SUS}\Lg{2525}{1225}{H2-R1}
\Lg{2285}{1270}{PEM SENSORS}\Lg{2285}{1296}{(UNDER CROSS-OVER}\Lg{2285}{1322}{PLATFORM/STAIRS)}
\Lg{3174}{1247}{SEI GND}\Lg{3174}{1274}{H2-3}
\Lg{2837}{1279}{ISC}\Lg{2837}{1303}{H2-R2}\Lg{2922}{1302}{ISC}\Lg{2922}{1328}{H2-R1}
\Lg{3005}{1302}{PSL}\Lg{3005}{1328}{H2-R2}\Lg{3074}{1302}{PSL}\Lg{3074}{1328}{H2-R1}
\Lg{2763}{1402}{VCMS}\Lg{2763}{1428}{R1}\Lg{2841}{1401}{TCS}\Lg{2841}{1426}{H2-R1}
\Sm{2126}{1404}{6" x 6" TRAY}\Sm{2126}{1418}{(typical)}
\end{tikzpicture}
\end{document}
